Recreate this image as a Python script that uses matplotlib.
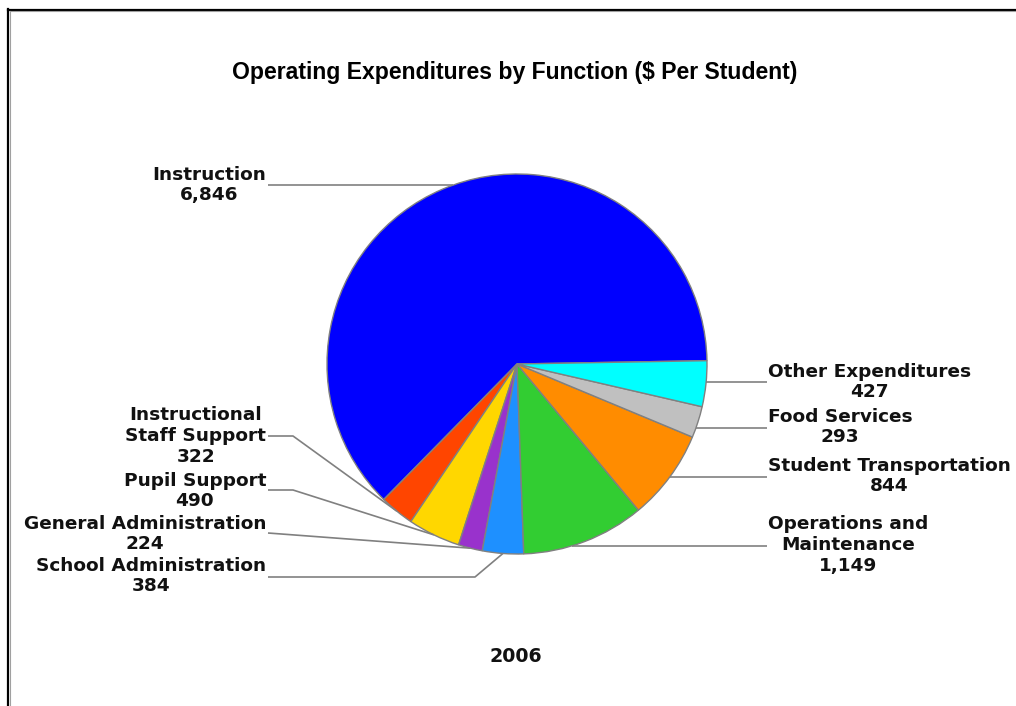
import numpy as np
import matplotlib
matplotlib.use("Agg")
import matplotlib.pyplot as plt
from matplotlib.lines import Line2D

# ---- data ----
categories = ["Instruction", "Instructional\nStaff Support", "Pupil Support",
              "General Administration", "School Administration",
              "Operations and\nMaintenance", "Student Transportation",
              "Food Services", "Other Expenditures"]
values = [6846, 322, 490, 224, 384, 1149, 844, 293, 427]
colors = ["#0000FF", "#FF4500", "#FFD700", "#9932CC", "#1E90FF",
          "#32CD32", "#FF8C00", "#C0C0C0", "#00FFFF"]
title = "Operating Expenditures by Function ($ Per Student)"
year_label = "2006"

W, H = 1016, 706
fig = plt.figure(figsize=(W / 100, H / 100), dpi=100)
fig.patch.set_facecolor("white")
ax = fig.add_axes([0, 0, 1, 1])

def Y(y):
    return H - y

def px2pt(p):
    return p * 72 / 100

cx, cy, R = 517, 364, 190
wedges, _ = ax.pie(values, colors=colors, startangle=1, counterclock=True,
                   center=(cx, Y(cy)), radius=R,
                   wedgeprops=dict(edgecolor="#808080", linewidth=1.0))
ax.set_xlim(0, W)
ax.set_ylim(0, H)
ax.set_aspect("auto")
ax.axis("off")

# label layout: (text x, text block center y, ha, leader y, elbow x, horizontal-to-edge)
layout = [
    (266, 185, "right", 185, None, True),
    (266, 436, "right", 436, 293, False),
    (266, 491, "right", 490, 293, False),
    (266, 534, "right", 533, None, False),
    (266, 576, "right", 577, 475, False),
    (768, 545, "left", 546, None, True),
    (768, 476, "left", 477, None, True),
    (768, 427, "left", 428, None, True),
    (768, 382, "left", 382, None, True),
]

fs = px2pt(18.5)
for w, cat, val, (tx, ty, ha, ly, ex, horiz) in zip(wedges, categories, values, layout):
    mid = np.deg2rad((w.theta1 + w.theta2) / 2)
    px = cx + R * np.cos(mid)
    py = Y(cy) + R * np.sin(mid)
    ax.text(tx, Y(ty), f"{cat}\n{val:,}", ha=ha, va="center",
            multialignment="center", fontsize=fs, fontweight="bold",
            family="DejaVu Sans", color="#111111", linespacing=1.2)
    sx = tx + 2 if ha == "right" else tx - 1
    if horiz:
        dy = ly - cy
        dx = np.sqrt(max(R ** 2 - dy ** 2, 0))
        ex_pt = cx + (dx if ha == "left" else -dx)
        xs = [sx, ex_pt]
        ys = [Y(ly), Y(ly)]
    elif ex is None:
        xs = [sx, px]
        ys = [Y(ly), py]
    else:
        xs = [sx, ex, px]
        ys = [Y(ly), Y(ly), py]
    ax.plot(xs, ys, color="#808080", linewidth=1.2, solid_capstyle="butt")

ax.text(515, Y(73), title, ha="center", va="center", fontsize=px2pt(23),
        fontweight="bold", family="Liberation Sans", color="#000000")
ax.text(516, Y(657), year_label, ha="center", va="center", fontsize=px2pt(19),
        fontweight="bold", family="DejaVu Sans", color="#111111")

# frame lines (top and left)
fig.add_artist(Line2D([7.5 / W, 7.5 / W], [0, 1 - 8.5 / H], transform=fig.transFigure,
                      color="black", linewidth=1.6))
fig.add_artist(Line2D([7.5 / W, 1], [1 - 9.5 / H, 1 - 9.5 / H], transform=fig.transFigure,
                      color="black", linewidth=1.6))
fig.add_artist(Line2D([9.5 / W, 9.5 / W], [0, 1 - 11 / H], transform=fig.transFigure,
                      color="#A0A0A0", linewidth=0.8))
fig.add_artist(Line2D([9.5 / W, 1], [1 - 11 / H, 1 - 11 / H], transform=fig.transFigure,
                      color="#A0A0A0", linewidth=0.8))

fig.savefig("out.png", dpi=100, facecolor="white")
